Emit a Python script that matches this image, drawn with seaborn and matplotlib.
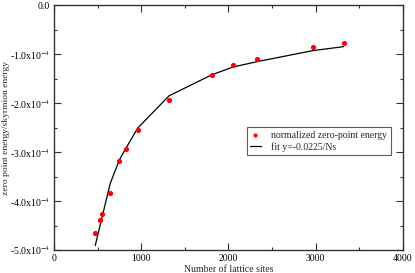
import matplotlib
matplotlib.use('Agg')
import matplotlib.pyplot as plt
from matplotlib.ticker import MultipleLocator, FixedLocator
import seaborn as sns
import pandas as pd

# Data
lattice_sites = [473, 531, 554, 645, 749, 825, 959, 1318, 1807, 2055, 2330, 2968, 3320]
zero_point = [-4.66e-4, -4.39e-4, -4.27e-4, -3.83e-4, -3.18e-4, -2.94e-4, -2.55e-4,
              -1.93e-4, -1.415e-4, -1.217e-4, -1.10e-4, -0.855e-4, -0.773e-4]
fit_values = [-4.91e-4, -4.48e-4, -4.31e-4, -3.64e-4, -3.16e-4, -2.92e-4, -2.51e-4,
              -1.85e-4, -1.42e-4, -1.258e-4, -1.149e-4, -0.924e-4, -0.843e-4]

y_ticks = [0.0, -1e-4, -2e-4, -3e-4, -4e-4, -5e-4]
y_tick_labels = ['0.0', r'-1.0x10$^{-4}$', r'-2.0x10$^{-4}$', r'-3.0x10$^{-4}$',
                 r'-4.0x10$^{-4}$', r'-5.0x10$^{-4}$']

df = pd.DataFrame({'N': lattice_sites, 'E': zero_point, 'fit': fit_values})

sns.set_theme(style='ticks')
plt.rcParams['font.family'] = ['Liberation Serif', 'DejaVu Serif']
plt.rcParams['mathtext.fontset'] = 'stix'

fig = plt.figure(figsize=(4.15, 2.73), dpi=100)
ax = fig.add_axes([0.130, 0.0842, 0.841, 0.896])

sns.scatterplot(data=df, x='N', y='E', ax=ax, color='red', s=14, linewidth=0,
                label='normalized zero-point energy', zorder=3)
sns.lineplot(data=df, x='N', y='fit', ax=ax, color='black', linewidth=0.9,
             sort=False, label='fit y=-0.0225/Ns', zorder=2)

ax.set_xlim(0, 4000)
ax.set_ylim(-5e-4, 0)
ax.xaxis.set_major_locator(MultipleLocator(1000))
ax.xaxis.set_minor_locator(MultipleLocator(500))
ax.yaxis.set_major_locator(FixedLocator(y_ticks))
ax.yaxis.set_minor_locator(MultipleLocator(0.5e-4))
ax.set_yticklabels(y_tick_labels)

ax.tick_params(which='both', direction='in', top=True, right=True, labelsize=7,
               width=0.8, colors='#333333', labelcolor='black', pad=3)
ax.tick_params(which='major', length=5)
ax.tick_params(which='minor', length=2.5)
for s in ax.spines.values():
    s.set_linewidth(1.0)
    s.set_color('#333333')

ax.set_xlabel('Number of lattice sites', fontsize=7, labelpad=1)
ax.set_ylabel('zero point energy/skyrmion energy', fontsize=6.8)
ax.yaxis.set_label_coords(-0.127, 0.5)

leg = ax.legend(loc='upper left', bbox_to_anchor=(0.552, 0.502), fontsize=7,
                frameon=True, fancybox=False, edgecolor='#333333',
                borderpad=0.35, borderaxespad=0, handlelength=1.1,
                handletextpad=1.1, labelspacing=0.25, markerscale=0.8)
leg.get_frame().set_linewidth(0.8)

fig.savefig('out.png', dpi=100)
